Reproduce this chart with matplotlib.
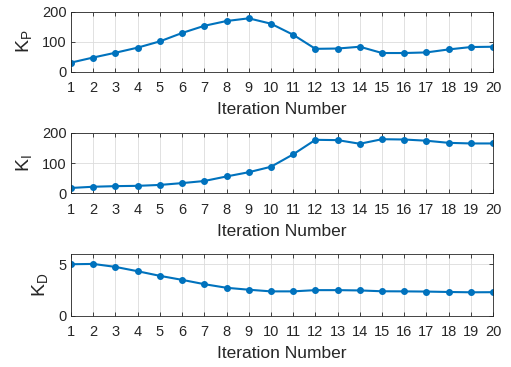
import numpy as np
import matplotlib
matplotlib.use('Agg')
import matplotlib.pyplot as plt

plt.rcParams['font.family'] = ['Liberation Sans', 'DejaVu Sans']
plt.rcParams['mathtext.default'] = 'regular'

iters = np.arange(1, 21)
kp = [30, 47, 63, 80, 101, 129, 153, 169, 178, 160, 123, 76, 77, 83, 62, 62, 64, 74, 82, 83]
ki = [18, 22, 24, 25, 28, 34, 41, 56, 70, 88, 129, 177, 176, 164, 179, 178, 174, 167, 165, 165]
kd = [5.0, 5.03, 4.74, 4.32, 3.87, 3.48, 3.06, 2.71, 2.52, 2.36, 2.36, 2.48, 2.48, 2.45,
      2.37, 2.36, 2.34, 2.30, 2.27, 2.28]

panels = [
    (kp, 'K$_P$', (0, 200), [0, 100, 200], [0.805, 0.968]),
    (ki, 'K$_I$', (0, 200), [0, 100, 200], [0.473, 0.638]),
    (kd, 'K$_D$', (0, 6), [0, 5], [0.140, 0.308]),
]

blue = '#0072BD'
fig = plt.figure(figsize=(5.11, 3.67), dpi=100)
for vals, lab, ylim, yt, (b, t) in panels:
    ax = fig.add_axes([0.139, b, 0.965 - 0.139, t - b])
    ax.plot(iters, vals, '-o', color=blue, lw=1.5, ms=4)
    ax.set_xlim(1, 20)
    ax.set_ylim(*ylim)
    ax.set_xticks(iters)
    ax.set_yticks(yt)
    ax.grid(True, color='#dcdcdc', lw=0.6)
    ax.set_axisbelow(True)
    ax.tick_params(direction='in', length=3, labelsize=10.5, colors='#262626',
                   top=True, right=True, width=0.6, pad=3)
    ax.tick_params(axis='x', pad=7)
    for s in ax.spines.values():
        s.set_color('#262626')
        s.set_linewidth(0.6)
    ax.set_xlabel('Iteration Number', fontsize=12.5, color='#262626', labelpad=5)
    ax.set_ylabel(lab, fontsize=14, color='#262626', labelpad=6)

fig.savefig('out.png', dpi=100)
